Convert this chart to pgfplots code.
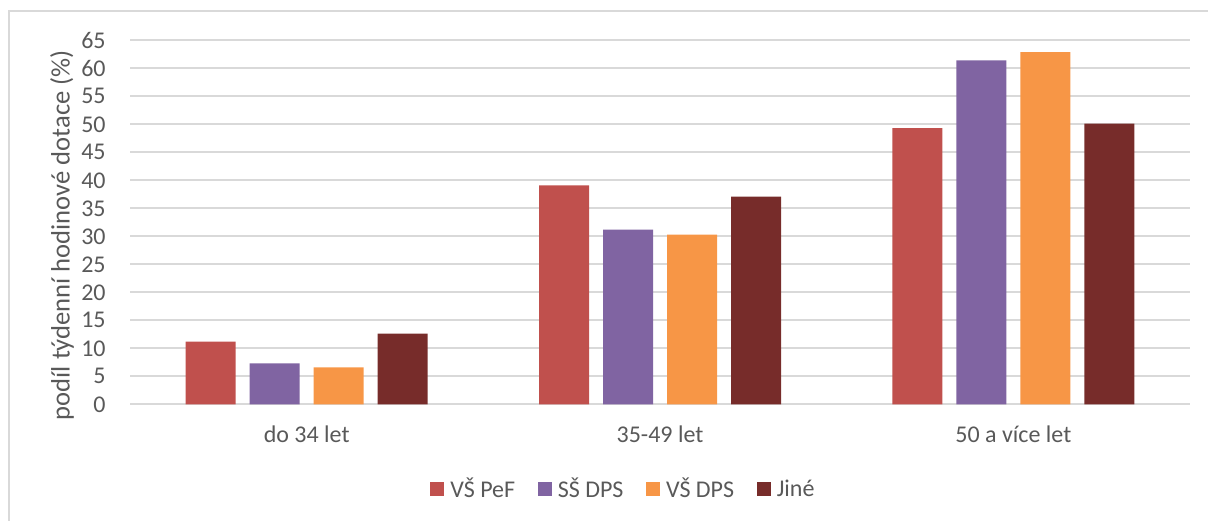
\documentclass[border=0pt]{standalone}
\usepackage{fontspec}
\setmainfont{Carlito}
\usepackage{pgfplots}
\pgfplotsset{compat=1.18}
\definecolor{cA}{HTML}{C0504D}
\definecolor{cB}{HTML}{8064A2}
\definecolor{cC}{HTML}{F79646}
\definecolor{cD}{HTML}{772C2A}
\definecolor{txt}{HTML}{595959}
\definecolor{grd}{HTML}{D9D9D9}
\begin{document}
\begin{tikzpicture}
\useasboundingbox (-65pt,-57.85pt) rectangle (539pt,202.15pt);
\clip (-65pt,-57.85pt) rectangle (539pt,202.15pt);
\begin{axis}[
  scale only axis,
  width=530pt, height=182pt,
  xmin=-0.5, xmax=2.5, ymin=0, ymax=65,
  ybar=7pt, bar width=25pt,
  xtick={0,1,2},
  xticklabels={do 34 let,35-49 let,50 a více let},
  ytick={0,5,...,65},
  major tick length=0pt,
  axis x line*=bottom, axis y line*=left,
  x axis line style={draw=grd, line width=1pt},
  y axis line style={draw=none},
  ymajorgrids,
  grid style={draw=grd, line width=1pt},
  /pgf/number format/assume math mode=true,
  tick label style={font=\fontsize{12}{14}\selectfont, text=txt},
  yticklabel style={anchor=east, inner sep=0pt, xshift=-12pt},
  xticklabel style={anchor=base, inner sep=0pt, yshift=-19.2pt},
  ylabel={podíl týdenní hodinové dotace (\%)},
  ylabel style={font=\fontsize{13.3}{15}\selectfont, text=txt, at={(axis description cs:-0.0642,0.465)}, anchor=center, rotate=0},
  legend columns=4,
  legend style={at={(axis description cs:0.283,-0.2335)}, anchor=west, draw=none, fill=none, inner sep=0pt, font=\fontsize{12}{14}\selectfont, text=txt, column sep=0pt, nodes={inner xsep=0pt}},
  legend image code/.code={\fill[#1] (0pt,-3.2pt) rectangle (7pt,3.5pt); \path (10pt,0pt);},
  /tikz/every even column/.append style={column sep=11.3pt},
]
\addplot[fill=cA, draw=none] coordinates {(0,11.2) (1,39.1) (2,49.3)};
\addplot[fill=cB, draw=none] coordinates {(0,7.3) (1,31.2) (2,61.4)};
\addplot[fill=cC, draw=none] coordinates {(0,6.6) (1,30.3) (2,62.9)};
\addplot[fill=cD, draw=none] coordinates {(0,12.6) (1,37.1) (2,50.1)};
\legend{VŠ PeF,SŠ DPS,VŠ DPS,Jiné}
\end{axis}
\draw[grd, line width=1pt] (-60.5pt,-80pt) -- (-60.5pt,196.65pt) -- (560pt,196.65pt);
\end{tikzpicture}
\end{document}
